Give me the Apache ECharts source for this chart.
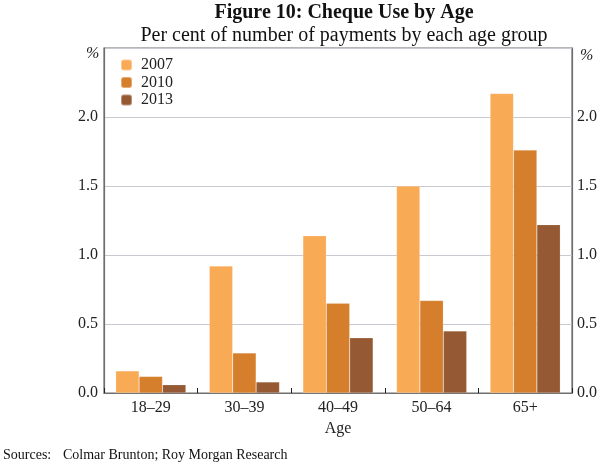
<!DOCTYPE html>
<html><head><meta charset="utf-8">
<script src="https://cdn.jsdelivr.net/npm/echarts@6/dist/echarts.min.js"></script>
<style>html,body{margin:0;padding:0;background:#fff}#c{width:600px;height:463px}</style>
</head><body><div id="c"></div>
<script>
var categories = ['18–29','30–39','40–49','50–64','65+'];
var s2007 = [0.16, 0.92, 1.14, 1.50, 2.17];
var s2010 = [0.12, 0.29, 0.65, 0.67, 1.76];
var s2013 = [0.06, 0.08, 0.40, 0.45, 1.22];
var yTicks = [0, 0.5, 1.0, 1.5, 2.0, 2.5];

var F = 'Liberation Serif, Times New Roman, serif';
var chart = echarts.init(document.getElementById('c'));
function bar(name, data, color){
  return {name:name, type:'bar', data:data, barGap:'0%', barCategoryGap:'25%',
    itemStyle:{color:color, borderColor:'rgba(255,255,255,0.35)', borderWidth:0.5}, yAxisIndex:0};
}
var yCommon = {
  type:'value', min:yTicks[0], max:yTicks[yTicks.length-1], interval:0.5,
  axisLine:{show:true, lineStyle:{color:'#6e6e6e', width:1.2}},
  axisTick:{show:false},
  splitLine:{show:true, lineStyle:{color:'#c9c9d2', width:1}},
  axisLabel:{fontFamily:F, fontSize:16, color:'#222',
    formatter:function(v){ return v===2.5 ? '' : v.toFixed(1); }}
};
chart.setOption({
  animation:false,
  title:[
    {text:'Figure 10: Cheque Use by Age', left:339, textAlign:'center', top:-2,
     textStyle:{fontFamily:F, fontSize:20, fontWeight:'bold', color:'#111'}},
    {text:'Per cent of number of payments by each age group', left:339, textAlign:'center', top:21,
     textStyle:{fontFamily:F, fontSize:20, fontWeight:'normal', color:'#111'}}
  ],
  graphic:[
    {type:'text', left:86, top:46, style:{text:'%', fontFamily:F, fontSize:16, fontStyle:'italic', fill:'#222'}},
    {type:'text', left:580, top:48, style:{text:'%', fontFamily:F, fontSize:16, fontStyle:'italic', fill:'#222'}},
    {type:'text', left:3, top:448, style:{text:'Sources:', fontFamily:F, fontSize:14, fill:'#111'}},
    {type:'text', left:63, top:448, style:{text:'Colmar Brunton; Roy Morgan Research', fontFamily:F, fontSize:14, fill:'#111'}}
  ],
  legend:{orient:'vertical', left:115, top:52, itemWidth:11, itemHeight:11, itemGap:1.5,
    textStyle:{fontFamily:F, fontSize:16, color:'#222', padding:[0,0,0,4]}, data:['2007','2010','2013']},
  grid:{left:104, right:26, top:48, bottom:70, show:true, borderColor:'#6e6e6e', borderWidth:1.2},
  xAxis:{type:'category', data:categories,
    name:'Age', nameLocation:'middle', nameGap:28,
    nameTextStyle:{fontFamily:F, fontSize:16, color:'#222'},
    axisLine:{lineStyle:{color:'#6e6e6e', width:1.2}},
    axisTick:{show:true, inside:true, length:5, lineStyle:{color:'#222'}},
    axisLabel:{fontFamily:F, fontSize:16, color:'#222', margin:7}},
  yAxis:[
    Object.assign({}, yCommon, {position:'left', axisLabel:Object.assign({}, yCommon.axisLabel, {margin:6})}),
    Object.assign({}, yCommon, {position:'right', splitLine:{show:false}, axisLabel:Object.assign({}, yCommon.axisLabel, {margin:5})})
  ],
  series:[bar('2007', s2007, '#f9aa55'), bar('2010', s2010, '#d57e2b'), bar('2013', s2013, '#955a33')]
});
</script></body></html>
